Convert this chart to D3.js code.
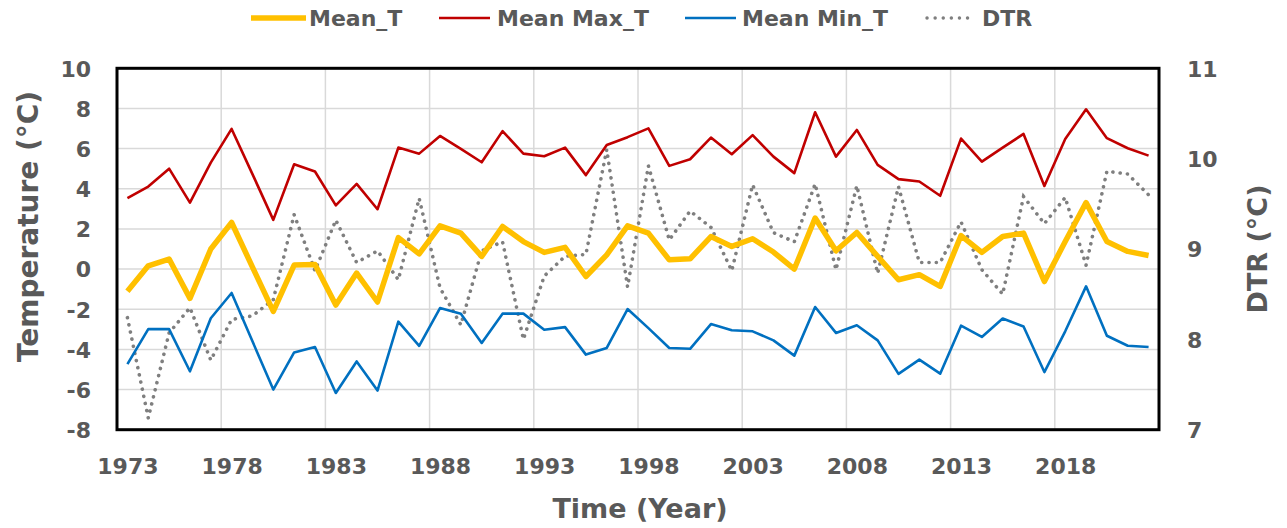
<!DOCTYPE html>
<html><head><meta charset="utf-8">
<script src="https://cdn.jsdelivr.net/npm/d3@7"></script>
<style>
html,body{margin:0;padding:0;background:#fff;}
svg text{font-family:"DejaVu Sans",sans-serif;font-weight:bold;fill:#595959;}
</style></head>
<body>
<svg id="chart" width="1287" height="528"></svg>
<script>
const years = d3.range(1973, 2023);
const meanT = [-1.11,0.16,0.5,-1.46,1.0,2.32,0.1,-2.11,0.2,0.23,-1.79,-0.2,-1.64,1.57,0.76,2.15,1.79,0.63,2.12,1.37,0.83,1.08,-0.37,0.71,2.15,1.79,0.46,0.51,1.62,1.13,1.51,0.85,0.0,2.54,0.91,1.82,0.63,-0.53,-0.28,-0.86,1.67,0.83,1.62,1.79,-0.62,1.37,3.31,1.37,0.88,0.68];
const meanMaxT = [3.53,4.11,5.0,3.31,5.3,6.98,4.73,2.45,5.22,4.86,3.17,4.24,2.98,6.05,5.75,6.63,5.99,5.32,6.87,5.75,5.62,6.05,4.68,6.18,6.57,7.01,5.14,5.47,6.55,5.72,6.67,5.6,4.78,7.81,5.6,6.93,5.19,4.48,4.36,3.65,6.5,5.35,6.05,6.73,4.14,6.48,7.96,6.52,6.02,5.65];
const meanMinT = [-4.73,-2.99,-2.99,-5.09,-2.45,-1.19,-3.6,-6.0,-4.15,-3.88,-6.17,-4.6,-6.05,-2.62,-3.82,-1.94,-2.22,-3.68,-2.22,-2.22,-3.02,-2.89,-4.26,-3.93,-1.99,-2.94,-3.93,-3.97,-2.74,-3.05,-3.1,-3.55,-4.31,-1.89,-3.18,-2.8,-3.55,-5.22,-4.51,-5.21,-2.82,-3.38,-2.46,-2.86,-5.13,-3.1,-0.86,-3.32,-3.82,-3.88];
const dtr = [8.24,7.13,8.07,8.35,7.77,8.22,8.26,8.44,9.38,8.76,9.32,8.85,8.98,8.66,9.56,8.57,8.16,8.98,9.08,8.0,8.7,8.92,8.94,10.1,8.58,9.92,9.1,9.42,9.24,8.76,9.71,9.18,9.08,9.72,8.77,9.7,8.73,9.69,8.85,8.85,9.3,8.77,8.5,9.58,9.28,9.57,8.82,9.86,9.83,9.6];
const leftTicks = d3.range(-8, 11, 2);
const rightTicks = [7, 8, 9, 10, 11];
const xLabelYears = years.filter((d, i) => i % 5 === 0);
const seriesNames = ["Mean_T", "Mean Max_T", "Mean Min_T", "DTR"];

const svg = d3.select("#chart");
const L = 117, R = 1159, T = 68.3, B = 429.7;
const x = d3.scalePoint().domain(years).range([L, R]).padding(0.5);
const step = x.step();
const y = d3.scaleLinear().domain([-8, 10]).range([B, T]);
const y2 = d3.scaleLinear().domain([7, 11]).range([B, T]);
const fmt = d => String(d);

// grid
const g = svg.append("g");
g.selectAll("line.h").data(leftTicks).join("line")
  .attr("x1", L).attr("x2", R).attr("y1", d => y(d)).attr("y2", d => y(d))
  .attr("stroke", "#d9d9d9").attr("stroke-width", 1.5);
const vYears = years.filter((d, i) => i % 5 === 0 && i > 0);
g.selectAll("line.v").data(vYears).join("line")
  .attr("x1", d => x(d) - step / 2).attr("x2", d => x(d) - step / 2)
  .attr("y1", T).attr("y2", B)
  .attr("stroke", "#d9d9d9").attr("stroke-width", 1.5);

// lines
const mk = (arr, sc) => d3.line().x((d, i) => x(years[i])).y(d => sc(d))(arr);
svg.append("path").attr("d", mk(dtr, y2)).attr("fill", "none")
  .attr("stroke", "#7f7f7f").attr("stroke-width", 3.6)
  .attr("stroke-linecap", "round").attr("stroke-dasharray", "0.1 7.2");
svg.append("path").attr("d", mk(meanMinT, y)).attr("fill", "none")
  .attr("stroke", "#0070c0").attr("stroke-width", 2.6).attr("stroke-linejoin", "round");
svg.append("path").attr("d", mk(meanMaxT, y)).attr("fill", "none")
  .attr("stroke", "#c00000").attr("stroke-width", 2.6).attr("stroke-linejoin", "round");
svg.append("path").attr("d", mk(meanT, y)).attr("fill", "none")
  .attr("stroke", "#ffc000").attr("stroke-width", 5.5).attr("stroke-linejoin", "round");

// border
svg.append("rect").attr("x", L).attr("y", T).attr("width", R - L).attr("height", B - T)
  .attr("fill", "none").attr("stroke", "#000").attr("stroke-width", 3);

// axes
const ax = svg.append("g").attr("transform", `translate(${L - 26},0)`)
  .call(d3.axisLeft(y).tickValues(leftTicks).tickFormat(fmt).tickSize(0).tickPadding(0));
ax.select(".domain").remove();
ax.selectAll("text").attr("font-size", 22).attr("dy", "0.36em");

const ax2 = svg.append("g").attr("transform", `translate(${R + 28},0)`)
  .call(d3.axisRight(y2).tickValues(rightTicks).tickFormat(fmt).tickSize(0).tickPadding(0));
ax2.select(".domain").remove();
ax2.selectAll("text").attr("font-size", 22).attr("dy", "0.36em");

const ax3 = svg.append("g").attr("transform", `translate(0,${B + 29})`)
  .call(d3.axisBottom(x).tickValues(xLabelYears).tickFormat(fmt).tickSize(0).tickPadding(0));
ax3.select(".domain").remove();
ax3.selectAll("text").attr("font-size", 22).attr("dy", "0.71em");
svg.selectAll(".tick text").style("fill", "#595959").style("font-family", "'DejaVu Sans',sans-serif").style("font-weight", "bold");

// titles
svg.append("text").attr("x", 640).attr("y", 518).attr("text-anchor", "middle")
  .attr("font-size", 27).text("Time (Year)");
svg.append("text").attr("transform", "translate(38,226.5) rotate(-90)").attr("text-anchor", "middle")
  .attr("font-size", 28).text("Temperature (°C)");
svg.append("text").attr("transform", "translate(1267,249) rotate(-90)").attr("text-anchor", "middle")
  .attr("font-size", 27).text("DTR (°C)");

// legend
const legend = [
  {name: seriesNames[0], x1: 251, x2: 306, tx: 309, color: "#ffc000", w: 5.5, dash: null},
  {name: seriesNames[1], x1: 439, x2: 490, tx: 497, color: "#c00000", w: 2.6, dash: null},
  {name: seriesNames[2], x1: 685, x2: 736, tx: 742, color: "#0070c0", w: 2.6, dash: null},
  {name: seriesNames[3], x1: 927, x2: 975, tx: 982, color: "#7f7f7f", w: 3.4, dash: "0.1 8"}
];
const lg = svg.append("g");
legend.forEach(d => {
  const l = lg.append("line").attr("x1", d.x1).attr("x2", d.x2).attr("y1", 18).attr("y2", 18)
    .attr("stroke", d.color).attr("stroke-width", d.w);
  if (d.dash) l.attr("stroke-dasharray", d.dash).attr("stroke-linecap", "round");
  lg.append("text").attr("x", d.tx).attr("y", 26).attr("font-size", 22).text(d.name);
});
</script>
</body></html>
